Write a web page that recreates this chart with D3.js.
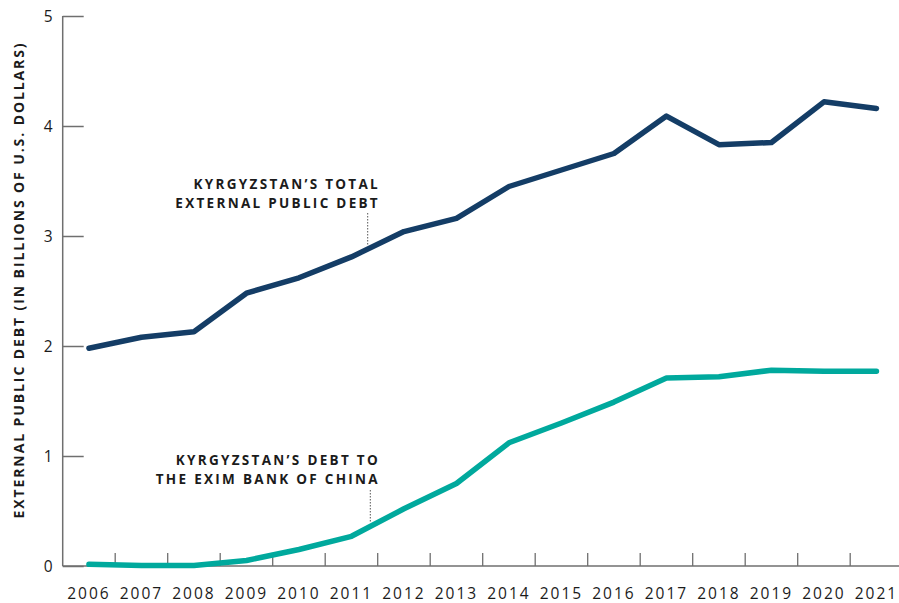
<!DOCTYPE html>
<html><head><meta charset="utf-8">
<script src="https://cdn.jsdelivr.net/npm/d3@7"></script>
<style>body{margin:0;background:#fff}svg{display:block}</style>
</head><body>
<script>
const years = ["2006","2007","2008","2009","2010","2011","2012","2013","2014","2015","2016","2017","2018","2019","2020","2021"];
const totalDebt = [1.98,2.08,2.13,2.48,2.62,2.81,3.04,3.16,3.45,3.60,3.75,4.09,3.83,3.85,4.22,4.16];
const eximDebt = [0.015,0.005,0.005,0.05,0.15,0.27,0.52,0.75,1.12,1.30,1.49,1.71,1.72,1.78,1.77,1.77];
const yTicks = [0,1,2,3,4,5];
const yLabel = "EXTERNAL PUBLIC DEBT (IN BILLIONS OF U.S. DOLLARS)";
const totalLabel = ["KYRGYZSTAN\u2019S TOTAL","EXTERNAL PUBLIC DEBT"];
const eximLabel = ["KYRGYZSTAN\u2019S DEBT TO","THE EXIM BANK OF CHINA"];

const W=899,H=603;
const svg=d3.select("body").append("svg").attr("width",W).attr("height",H);
const x=d3.scaleBand().domain(years).range([62.7,902.7]).paddingInner(0).paddingOuter(0);
const y=d3.scaleLinear().domain([0,5]).range([566,16]);
const axisColor="#6f6f6f", textColor="#1b1b1b";
const font="'Open Sans', sans-serif";

// y axis
const ya=svg.append("g").attr("transform","translate(62.7,0)")
  .call(d3.axisRight(y).tickValues(yTicks).tickSize(21).tickFormat(d3.format("d")));
ya.select(".domain").remove();
ya.selectAll(".tick line").attr("stroke",axisColor).attr("stroke-width",1.5);
ya.selectAll(".tick text").attr("x",-10).attr("text-anchor","end").attr("dy","0.35em")
  .attr("fill",textColor).style("font-family",font).style("font-size","15.5px");
svg.append("line").attr("x1",62.7).attr("x2",62.7).attr("y1",y(5)).attr("y2",y(0))
  .attr("stroke",axisColor).attr("stroke-width",1.5);

// x axis
const xa=svg.append("g").attr("transform",`translate(0,${y(0)})`)
  .call(d3.axisBottom(x).tickSize(0));
xa.select(".domain").remove();
xa.selectAll(".tick text").attr("y",0).attr("dy","33px").attr("fill",textColor)
  .style("font-family",font).style("font-size","15.5px").style("letter-spacing","2px");
svg.append("line").attr("x1",62.7).attr("x2",W).attr("y1",y(0)).attr("y2",y(0))
  .attr("stroke",axisColor).attr("stroke-width",1.5);
svg.append("g").selectAll("line").data(years.slice(1)).join("line")
  .attr("x1",d=>x(d)).attr("x2",d=>x(d)).attr("y1",y(0)).attr("y2",y(0)-13)
  .attr("stroke",axisColor).attr("stroke-width",1.3);

// y label
svg.append("text").attr("transform","translate(24,280) rotate(-90)")
  .attr("text-anchor","middle").attr("fill",textColor)
  .style("font-family",font).style("font-weight","700").style("font-size","14px")
  .style("letter-spacing","1.9px").text(yLabel);

// lines
const line=d3.line().x((d,i)=>x(years[i])+x.bandwidth()/2).y(d=>y(d));
svg.append("path").datum(eximDebt).attr("d",line).attr("fill","none")
  .attr("stroke","#00a99d").attr("stroke-width",5.5).attr("stroke-linecap","round").attr("stroke-linejoin","round");
svg.append("path").datum(totalDebt).attr("d",line).attr("fill","none")
  .attr("stroke","#143d66").attr("stroke-width",5.5).attr("stroke-linecap","round").attr("stroke-linejoin","round");

// annotations
function annot(lines,xr,y0,lx,ly1,ly2){
  const t=svg.append("text").attr("text-anchor","end").attr("fill",textColor)
    .style("font-family",font).style("font-weight","700").style("font-size","13.5px").style("letter-spacing","2.3px");
  lines.forEach((s,i)=>t.append("tspan").attr("x",xr).attr("y",y0+i*19).text(s));
  svg.append("line").attr("x1",lx).attr("x2",lx).attr("y1",ly1).attr("y2",ly2)
    .attr("stroke","#555").attr("stroke-width",1).attr("stroke-dasharray","1.5,1.5");
}
annot(totalLabel,380,189,367.7,213,246);
annot(eximLabel,380,465,370.3,490,522);
</script>
</body></html>
